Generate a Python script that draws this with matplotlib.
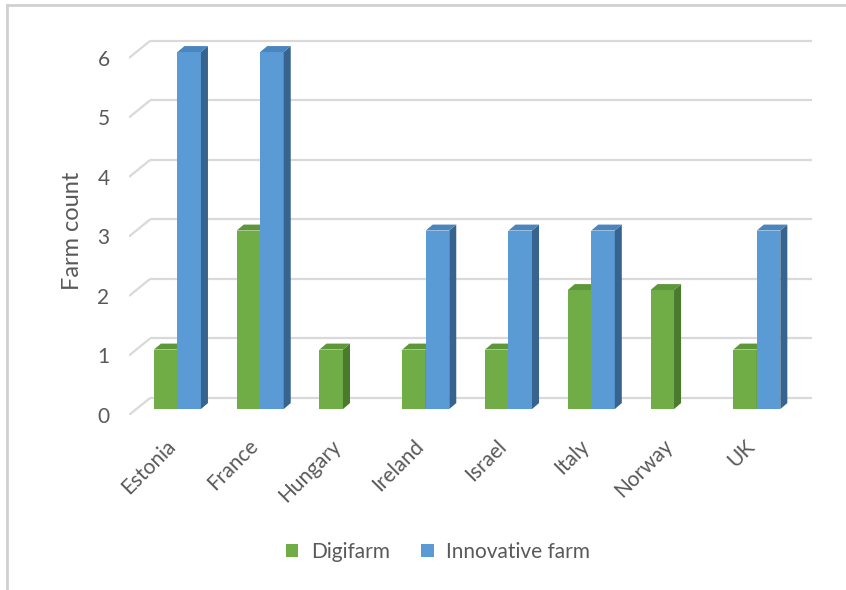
import numpy as np
import matplotlib.pyplot as plt
from matplotlib.patches import Polygon, Rectangle
from matplotlib.lines import Line2D

plt.rcParams['font.family'] = ['Lato', 'DejaVu Sans']

countries = ["Estonia", "France", "Hungary", "Ireland", "Israel", "Italy", "Norway", "UK"]
digifarm = [1, 3, 1, 1, 1, 2, 2, 1]
innovative = [6, 6, 0, 3, 3, 3, 0, 3]
yticks = [0, 1, 2, 3, 4, 5, 6]

green = "#70AD47"
green_top = "#5E973A"
green_side = "#4A7A2C"
blue = "#5B9BD5"
blue_top = "#4A85BD"
blue_side = "#36648E"
grid_c = "#D9D9D9"
text_c = "#595959"

# 3d-ish offsets (category units, value units)
wall_dx, wall_dy = 0.254, 0.286
bar_dx, bar_dy = 0.085, 0.10
depth_dx, depth_dy = 0.085, 0.10
bw = 0.284

fig = plt.figure(figsize=(8.46, 5.90), dpi=100)
ax = fig.add_axes([129/846, (590-415)/590, (813-129)/846, (415-30)/590])
ax.set_xlim(-0.5, 7.5 + wall_dx + 0.01)
ax.set_ylim(0, 6.47)
for s in ax.spines.values():
    s.set_visible(False)

# back wall gridlines + floor diagonals
for v in yticks:
    ax.plot([-0.5, -0.5 + wall_dx], [v, v + wall_dy], color=grid_c, lw=1.6, zorder=1,
            solid_capstyle='butt')
    ax.plot([-0.5 + wall_dx, 7.5 + wall_dx], [v + wall_dy, v + wall_dy], color=grid_c, lw=1.6,
            zorder=1, solid_capstyle='butt')


def bar3d(x0, h, face, top, side):
    if h <= 0:
        return
    x = x0 + bar_dx
    y = bar_dy
    ax.add_patch(Rectangle((x, y), bw, h, facecolor=face, edgecolor='none', zorder=3))
    ax.add_patch(Polygon([(x + bw, y), (x + bw + depth_dx, y + depth_dy),
                          (x + bw + depth_dx, y + h + depth_dy), (x + bw, y + h)],
                         closed=True, facecolor=side, edgecolor='none', zorder=3))
    ax.add_patch(Polygon([(x, y + h), (x + depth_dx, y + h + depth_dy),
                          (x + bw + depth_dx, y + h + depth_dy), (x + bw, y + h)],
                         closed=True, facecolor=top, edgecolor='none', zorder=3))


xs = np.arange(len(countries))
for i in xs:
    bar3d(i - bw, digifarm[i], green, green_top, green_side)
    bar3d(i, innovative[i], blue, blue_top, blue_side)

ax.set_yticks(yticks)
ax.set_yticklabels([str(v) for v in yticks], fontsize=15, color=text_c)
ax.tick_params(axis='y', length=0, pad=14)

ax.set_xticks(xs - 0.06)
ax.set_xticklabels(countries, rotation=45, ha='right', va='top', rotation_mode='anchor',
                   fontsize=15, color=text_c)
ax.tick_params(axis='x', length=0, pad=15)

ax.set_ylabel("Farm count", fontsize=17, color=text_c)
ax.yaxis.set_label_coords((83 - 129) / 684, (415 - 231) / 385)

handles = [Rectangle((0, 0), 1, 1, facecolor=green), Rectangle((0, 0), 1, 1, facecolor=blue)]
fig.legend(handles, ["Digifarm", "Innovative farm"], loc='center', ncol=2, frameon=False,
           bbox_to_anchor=(438/846, 1 - 552/590), fontsize=15, handlelength=0.6,
           handleheight=0.6, handletextpad=0.6, columnspacing=1.5, labelcolor=text_c)

# chart border (top and left visible)
fig.add_artist(Line2D([7/846, 1], [1 - 5/590, 1 - 5/590], color="#D0D0D0", lw=2))
fig.add_artist(Line2D([7/846, 7/846], [0, 1 - 5/590], color="#D0D0D0", lw=2))

fig.savefig("out.png", dpi=100)
